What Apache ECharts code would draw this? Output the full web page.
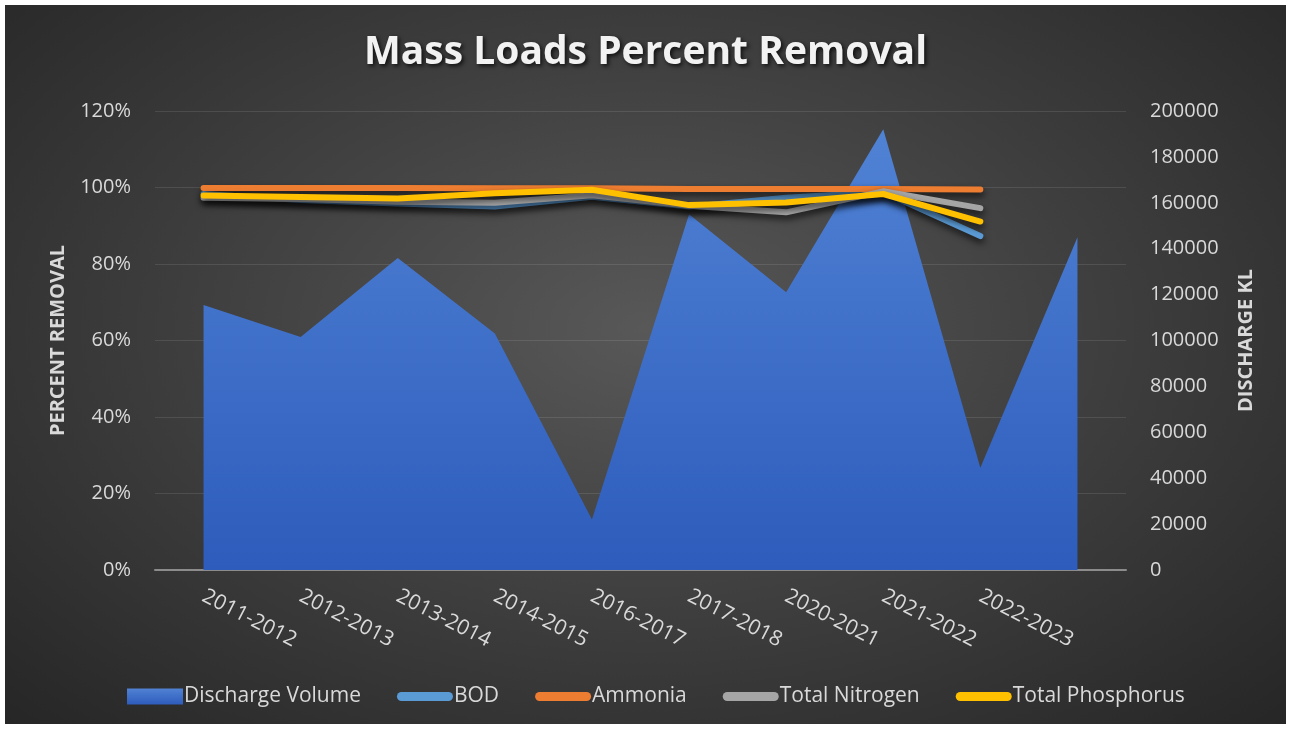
<!DOCTYPE html>
<html>
<head>
<meta charset="utf-8">
<script src="https://cdn.jsdelivr.net/npm/echarts@6/dist/echarts.min.js"></script>
<style>
  html, body { margin: 0; padding: 0; background: #fff; }
  #chart {
    position: absolute; left: 5px; top: 5px; width: 1281px; height: 719px;
    background: radial-gradient(ellipse at 50% 45%, #585858 0%, #3c3c3c 55%, #262626 100%);
  }
</style>
</head>
<body>
<div id="chart"></div>
<script>
// categories (last slot has no label, only the discharge point)
const years = ['2011-2012', '2012-2013', '2013-2014', '2014-2015', '2016-2017',
  '2017-2018', '2020-2021', '2021-2022', '2022-2023', ''];

// discharge volume, KL (right axis)
const discharge = [115500, 101500, 136000, 103000, 22000, 155000, 121000, 192000, 44500, 145000];

// percent removal (left axis)
const bod = [98.3, 96.7, 95.8, 95.0, 97.6, 95.0, 97.3, 98.8, 87.3];
const ammonia = [99.9, 99.9, 99.9, 99.8, 99.8, 99.6, 99.6, 99.6, 99.5];
const totalNitrogen = [97.3, 97.0, 96.3, 96.0, 98.0, 95.2, 93.5, 99.0, 94.6];
const totalPhosphorus = [97.9, 97.5, 97.1, 98.5, 99.4, 95.4, 96.1, 98.3, 91.1];

const FONT = '"Open Sans", "DejaVu Sans", sans-serif';
const TXT = '#d9d9d9';
const lineIcon = 'path://M4.5,0 H51.5 A4.5,4.5 0 0 1 51.5,9 H4.5 A4.5,4.5 0 0 1 4.5,0 Z';

const chart = echarts.init(document.getElementById('chart'), null, { renderer: 'canvas' });

function lineSeries(name, data, color) {
  return {
    name: name,
    type: 'line',
    yAxisIndex: 0,
    data: data,
    symbol: 'none',
    color: color,
    lineStyle: {
      width: 6, color: color, cap: 'round', join: 'round',
      shadowColor: 'rgba(0,0,0,0.7)', shadowBlur: 7, shadowOffsetX: 1, shadowOffsetY: 4
    },
    z: 3
  };
}

const areaColor = new echarts.graphic.LinearGradient(0, 0, 0, 1, [
  { offset: 0, color: '#5082d4' },
  { offset: 1, color: '#2d5cbc' }
]);

chart.setOption({
  textStyle: { fontFamily: FONT },
  title: {
    text: 'Mass Loads Percent Removal',
    left: 'center',
    top: 23,
    textStyle: {
      color: '#f2f2f2', fontSize: 39, fontWeight: 'bold', fontFamily: FONT,
      textShadowColor: 'rgba(0,0,0,0.75)', textShadowBlur: 4,
      textShadowOffsetX: 2, textShadowOffsetY: 2
    }
  },
  legend: {
    left: 117,
    top: 676,
    itemWidth: 56,
    itemHeight: 16,
    itemGap: 36,
    textStyle: { color: TXT, fontSize: 21, fontFamily: FONT, padding: [0, 0, 0, -4] },
    data: [
      { name: 'Discharge Volume', icon: 'rect' },
      { name: 'BOD', icon: lineIcon },
      { name: 'Ammonia', icon: lineIcon },
      { name: 'Total Nitrogen', icon: lineIcon },
      { name: 'Total Phosphorus', icon: lineIcon }
    ]
  },
  grid: { left: 150, right: 160, top: 106, bottom: 154 },
  xAxis: {
    type: 'category',
    data: years,
    boundaryGap: true,
    axisLine: { lineStyle: { color: '#8c8c8c', width: 2 } },
    axisTick: { show: false },
    axisLabel: { color: TXT, fontSize: 21, rotate: -27, margin: 25, interval: 0, fontFamily: FONT }
  },
  yAxis: [
    {
      type: 'value',
      min: 0, max: 120, interval: 20,
      name: 'PERCENT REMOVAL',
      nameLocation: 'middle',
      nameRotate: 90,
      nameGap: 87,
      nameTextStyle: { color: TXT, fontSize: 20, fontWeight: 'bold', fontFamily: FONT },
      axisLine: { show: false },
      axisTick: { show: false },
      axisLabel: { color: TXT, fontSize: 20, formatter: '{value}%', margin: 24, fontFamily: FONT },
      splitLine: { lineStyle: { color: 'rgba(255,255,255,0.1)', width: 1 } }
    },
    {
      type: 'value',
      min: 0, max: 200000, interval: 20000,
      name: 'DISCHARGE KL',
      nameLocation: 'middle',
      nameRotate: 90,
      nameGap: 110,
      nameTextStyle: { color: TXT, fontSize: 20, fontWeight: 'bold', fontFamily: FONT },
      axisLine: { show: false },
      axisTick: { show: false },
      axisLabel: { color: TXT, fontSize: 20, margin: 24, fontFamily: FONT, formatter: v => String(v) },
      splitLine: { show: false }
    }
  ],
  series: [
    {
      name: 'Discharge Volume',
      type: 'line',
      yAxisIndex: 1,
      data: discharge,
      symbol: 'none',
      color: areaColor,
      itemStyle: { color: areaColor },
      lineStyle: { width: 0 },
      areaStyle: { color: areaColor, opacity: 1 },
      z: 1
    },
    lineSeries('BOD', bod, '#5b9bd5'),
    lineSeries('Ammonia', ammonia, '#ed7d31'),
    lineSeries('Total Nitrogen', totalNitrogen, '#a5a5a5'),
    lineSeries('Total Phosphorus', totalPhosphorus, '#ffc000')
  ]
});
</script>
</body>
</html>
